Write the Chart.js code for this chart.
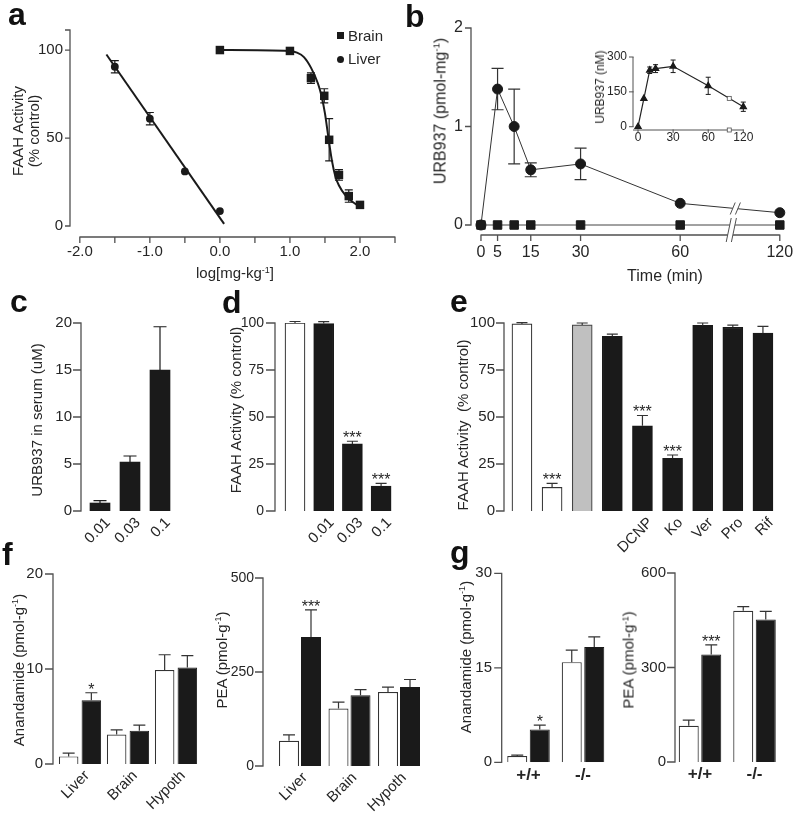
<!DOCTYPE html>
<html><head><meta charset="utf-8">
<script src="https://cdn.jsdelivr.net/npm/chart.js@4.4.1/dist/chart.umd.min.js"></script>
<style>
html,body{margin:0;padding:0;background:#fff;}
#root{position:relative;width:800px;height:815px;overflow:hidden;font-family:"Liberation Sans",Arial,sans-serif;color:#262626;background:#fff;}
#root canvas{position:absolute;}
.pl{position:absolute;font-weight:bold;font-size:32px;line-height:32px;color:#111;}
.yt{position:absolute;white-space:nowrap;font-size:15px;line-height:17px;transform:translate(-50%,-50%) rotate(-90deg);}
.ct{position:absolute;white-space:nowrap;font-size:15px;line-height:18px;transform:translate(-50%,-50%);}
.tx{position:absolute;white-space:nowrap;font-size:15px;line-height:18px;}
sup{font-size:0.6em;vertical-align:0.6em;line-height:0;}
</style></head><body><div id="root"></div>
<script>
// ================= DATA =================
// Panel a : FAAH activity vs log dose
const aLiverDose = [-1.5, -1.0, -0.5, 0.0];
const aLiverAct  = [90.5, 61, 31, 8.5];
const aLiverErr  = [3.5, 3.5, 0, 0];
const aLiverFitDose = [-1.62, 0.06];
const aLiverFitAct  = [97.5, 1.2];
const aBrainDose = [0.0, 1.0, 1.3, 1.49, 1.56, 1.7, 1.84, 2.0];
const aBrainAct  = [100, 99.5, 84, 74, 49, 29, 17, 12];
const aBrainErr  = [0, 0, 3, 4, 12, 3, 3.5, 0];
const aBrainFitDose = [0, 1.0, 1.1, 1.2, 1.3, 1.4, 1.45, 1.5, 1.55, 1.6, 1.65, 1.7, 1.8, 1.9, 1.96];
const aBrainFitAct  = [100, 99.5, 98.5, 96, 90, 81, 74, 64, 50, 37, 28, 23, 17, 13.5, 12];
const aXTicks = [-2, -1.5, -1, -0.5, 0, 0.5, 1, 1.5, 2, 2.5];
const aXTickLabels = ['-2.0', '', '-1.0', '', '0.0', '', '1.0', '', '2.0', ''];
const aYTicks = [0, 50, 100];

// Panel b : time course
const bTimes = [0, 5, 10, 15, 30, 60, 120];
const bLiver = [0, 1.38, 1.0, 0.56, 0.62, 0.22, 0.125];
const bLiverErr = [0, 0.21, 0.38, 0.07, 0.16, 0, 0];
const bBrain = [0, 0, 0, 0, 0, 0, 0];
const bXTicks = [0, 5, 15, 30, 60, 120];
const bYTicks = [0, 1, 2];
// inset
const inTimes = [0, 5, 10, 15, 30, 60, 120];
const inSerum = [0, 121, 243, 250, 260, 176, 86];
const inErr   = [0, 0, 14, 17, 27, 37, 20];
const inXTicks = [0, 30, 60, 120];
const inYTicks = [0, 150, 300];

// Panel c
const cDoses = ['0.01', '0.03', '0.1'];
const cSerum = [0.85, 5.2, 15.0];
const cErr   = [0.25, 0.65, 4.6];
const cYTicks = [0, 5, 10, 15, 20];

// Panel d
const dLabels = ['', '0.01', '0.03', '0.1'];
const dAct    = [100, 99.7, 35.7, 13.2];
const dErr    = [0.8, 1.0, 1.4, 1.5];
const dStars  = ['', '', '***', '***'];
const dFill   = ['#ffffff', '#1a1a1a', '#1a1a1a', '#1a1a1a'];
const pctTicks = [0, 25, 50, 75, 100];

// Panel e
const eLabelsH = ['V', '597', '', '', '', '', '', '', ''];
const eLabelsR = ['', '', '', '', 'DCNP', 'Ko', 'Ver', 'Pro', 'Rif'];
const eAct   = [99.5, 12.6, 99, 92.9, 45.3, 28, 98.7, 97.7, 94.6];
const eErr   = [0.7, 2.1, 1, 1.2, 5.5, 1.8, 1.3, 1.2, 3.6];
const eStars = ['', '***', '', '', '***', '***', '', '', ''];
const eFill  = ['#ffffff', '#ffffff', '#c0c0c0', '#1a1a1a', '#1a1a1a', '#1a1a1a', '#1a1a1a', '#1a1a1a', '#1a1a1a'];

// Panel f
const fTissues = ['Liver', 'Brain', 'Hypoth'];
const fAeaVeh = [0.8, 3.1, 9.9];
const fAeaVehErr = [0.35, 0.5, 1.6];
const fAeaUrb = [6.7, 3.5, 10.15];
const fAeaUrbErr = [0.8, 0.6, 1.25];
const fAeaStars = ['*', '', ''];
const fPeaVeh = [67, 153, 197];
const fPeaVehErr = [16, 17, 13];
const fPeaUrb = [343, 188, 210];
const fPeaUrbErr = [72, 15, 20];
const fPeaStars = ['***', '', ''];

// Panel g
const gGeno = ['+/+', '-/-'];
const gAeaVeh = [1.0, 15.9];
const gAeaVehErr = [0.15, 1.9];
const gAeaUrb = [5.2, 18.3];
const gAeaUrbErr = [0.7, 1.6];
const gAeaStars = ['*', ''];
const gPeaVeh = [115, 480];
const gPeaVehErr = [18, 13];
const gPeaUrb = [341, 452];
const gPeaUrbErr = [31, 26];
const gPeaStars = ['***', ''];

// ================= SETUP =================
const FONT = '"Liberation Sans", Arial, sans-serif';
const AX = '#505050', TXT = '#262626', BLK = '#1a1a1a';
Chart.defaults.font.family = FONT;
Chart.defaults.font.size = 15;
Chart.defaults.color = TXT;
Chart.defaults.animation = false;
Chart.defaults.events = [];
Chart.defaults.plugins.legend.display = false;
Chart.defaults.plugins.tooltip.enabled = false;

const root = document.getElementById('root');
const tmap = t => (t <= 60 ? t : 60 + (t - 60) / 2);   // broken time axis
const pts = (xs, ys) => xs.map((x, i) => ({x: x, y: ys[i]}));

const paxCfg = new Map();
function drawErrors(chart, before) {
  const ctx = chart.ctx, ys = chart.scales.y;
  chart.data.datasets.forEach((ds, di) => {
    if (!ds.err || (!!ds.errBefore) !== before) return;
    const meta = chart.getDatasetMeta(di);
    ctx.save();
    ctx.strokeStyle = ds.errColor || BLK;
    ctx.lineWidth = ds.errWidth || 1.2;
    meta.data.forEach((el, i) => {
      const raw = ds.data[i];
      const val = (typeof raw === 'object') ? raw.y : raw;
      const e = ds.err[i], x = el.x, cw = (ds.errCap || 10) / 2;
      const yv = ys.getPixelForValue(val), yt = ys.getPixelForValue(val + e);
      if (e > 0) {
        ctx.beginPath();
        ctx.moveTo(x, yv); ctx.lineTo(x, yt);
        ctx.moveTo(x - cw, yt); ctx.lineTo(x + cw, yt);
        if (ds.errBoth) {
          const yb = ys.getPixelForValue(val - e);
          ctx.moveTo(x, yv); ctx.lineTo(x, yb);
          ctx.moveTo(x - cw, yb); ctx.lineTo(x + cw, yb);
        }
        ctx.stroke();
      }
      if (ds.stars && ds.stars[i]) {
        ctx.fillStyle = TXT;
        ctx.font = '16px ' + FONT;
        ctx.textAlign = 'center';
        ctx.textBaseline = 'alphabetic';
        ctx.fillText(ds.stars[i], x, yt + 2);
      }
    });
    ctx.restore();
  });
}
const paxPlugin = {
  id: 'pax',
  beforeDatasetsDraw(chart) { drawErrors(chart, true); },
  afterDatasetsDraw(chart) { drawErrors(chart, false); },
  afterDraw(chart) {
    const cfg = paxCfg.get(chart.canvas); if (!cfg) return;
    const ctx = chart.ctx, ca = chart.chartArea, xs = chart.scales.x, ys = chart.scales.y;
    ctx.save();
    ctx.strokeStyle = AX; ctx.lineWidth = cfg.lw || 1.3;
    ctx.beginPath();
    if (cfg.y) {
      const ax = ca.left - cfg.y.gap;
      ctx.moveTo(ax, ys.getPixelForValue(cfg.y.from));
      ctx.lineTo(ax, ys.getPixelForValue(cfg.y.to));
      cfg.y.ticks.forEach(v => { const p = ys.getPixelForValue(v); ctx.moveTo(ax - cfg.y.len, p); ctx.lineTo(ax + 0.6, p); });
    }
    if (cfg.x) {
      const ay = ca.bottom;
      ctx.moveTo(xs.getPixelForValue(cfg.x.from), ay);
      ctx.lineTo(xs.getPixelForValue(cfg.x.to), ay);
      cfg.x.ticks.forEach(v => { const p = xs.getPixelForValue(v); ctx.moveTo(p, ay - 0.6); ctx.lineTo(p, ay + cfg.x.len); });
    }
    ctx.stroke();
    ctx.restore();
  }
};
Chart.register(paxPlugin);

function yLin(min, max, ticks, pad, size) {
  return {
    type: 'linear', position: 'left', min: min, max: max,
    grid: {display: false, drawTicks: false}, border: {display: false},
    ticks: {padding: pad, color: TXT, autoSkip: false, font: {size: size || 15}, callback: v => String(v)},
    afterBuildTicks: s => { s.ticks = ticks.map(v => ({value: v})); }
  };
}
function xLin(min, max, ticks, labels, pad, size) {
  return {
    type: 'linear', position: 'bottom', min: min, max: max,
    grid: {display: false, drawTicks: false}, border: {display: false},
    ticks: {padding: pad, color: TXT, autoSkip: false, maxRotation: 0, font: {size: size || 15}, callback: (v, i) => labels[i]},
    afterBuildTicks: s => { s.ticks = ticks.map(v => ({value: v})); }
  };
}
function xCat(o) {
  return {
    type: 'category', position: 'bottom', offset: true,
    grid: {display: false, drawTicks: false}, border: {display: false},
    ticks: {autoSkip: false, padding: o.pad, labelOffset: o.lo || 0, minRotation: o.rot || 0, maxRotation: o.rot || 0,
            color: TXT, font: {size: o.size || 15, weight: o.weight || 'normal'}}
  };
}
function makeChart(b, config, axes, plugins) {
  const left = Math.round(b.L - b.yw), top = Math.round(b.T - b.pt);
  const W = Math.ceil(b.R + b.pr - left), H = Math.ceil(b.B + b.xh - top);
  const c = document.createElement('canvas');
  c.width = W; c.height = H;
  c.style.left = left + 'px'; c.style.top = top + 'px';
  c.style.width = W + 'px'; c.style.height = H + 'px';
  root.appendChild(c);
  const yw = b.L - left, pt = b.T - top, pr = W - (b.R - left), xh = H - (b.B - top);
  const o = config.options;
  o.responsive = false; o.maintainAspectRatio = false; o.devicePixelRatio = 1; o.animation = false;
  o.layout = {padding: {left: 0, top: pt, right: pr, bottom: 0}};
  o.scales.y.afterFit = s => { s.width = yw; };
  Object.keys(o.scales).forEach(k => {
    if (k === 'y') return;
    const h = (k === 'x') ? xh : 0;
    o.scales[k].afterFit = s => { s.height = h; };
  });
  if (axes) paxCfg.set(c, axes);
  if (plugins) config.plugins = plugins;
  return new Chart(c, config);
}
function slash(ctx, cx, y1, y2) {
  const s = 2.5, g = 2.6;
  ctx.fillStyle = '#fff';
  ctx.beginPath();
  ctx.moveTo(cx - g + s, y1); ctx.lineTo(cx + g + s, y1); ctx.lineTo(cx + g - s, y2); ctx.lineTo(cx - g - s, y2);
  ctx.closePath(); ctx.fill();
  ctx.strokeStyle = AX; ctx.lineWidth = 1;
  ctx.beginPath();
  ctx.moveTo(cx - g + s, y1); ctx.lineTo(cx - g - s, y2);
  ctx.moveTo(cx + g + s, y1); ctx.lineTo(cx + g - s, y2);
  ctx.stroke();
}
function interpY(meta, px) {
  const d = meta.data;
  for (let i = 0; i < d.length - 1; i++) {
    if (px >= d[i].x && px <= d[i + 1].x) return d[i].y + (px - d[i].x) / (d[i + 1].x - d[i].x) * (d[i + 1].y - d[i].y);
  }
  return d[d.length - 1].y;
}

// ================= PANEL a =================
makeChart({L: 70, T: 30, R: 395, B: 237, yw: 60, pt: 40, pr: 30, xh: 26}, {
  type: 'scatter',
  data: {datasets: [
    {data: pts(aBrainDose, aBrainAct), pointStyle: 'rect', pointRadius: 6, backgroundColor: BLK, borderColor: BLK, borderWidth: 0,
     showLine: false, err: aBrainErr, errBoth: true, errBefore: true, errCap: 8, clip: false},
    {data: pts(aLiverDose, aLiverAct), pointStyle: 'circle', pointRadius: 3.9, backgroundColor: BLK, borderColor: BLK, borderWidth: 0,
     showLine: false, err: aLiverErr, errBoth: true, errBefore: true, errCap: 8, clip: false},
    {data: pts(aBrainFitDose, aBrainFitAct), showLine: true, pointRadius: 0, borderColor: BLK, borderWidth: 2,
     cubicInterpolationMode: 'monotone', clip: false},
    {data: pts(aLiverFitDose, aLiverFitAct), showLine: true, pointRadius: 0, borderColor: BLK, borderWidth: 2, clip: false}
  ]},
  options: {scales: {x: xLin(-2.14, 2.5, aXTicks, aXTickLabels, 6, 15), y: yLin(-6.25, 111.4, aYTicks, 7, 15)}}
}, {y: {gap: 0, from: 0, to: 111.4, ticks: [0, 50, 100, 111.4], len: 5}, x: {from: -2, to: 2.5, ticks: aXTicks, len: 6}});

// ================= PANEL b =================
const bBreakAt = 76;
makeChart({L: 471, T: 28, R: 780, B: 235, yw: 30, pt: 40, pr: 30, xh: 30}, {
  type: 'scatter',
  data: {datasets: [
    {data: pts(bTimes.map(tmap), bBrain), pointStyle: 'rect', pointRadius: 6, backgroundColor: BLK, borderColor: '#444',
     pointBorderColor: BLK, borderWidth: 1, showLine: true, clip: false},
    {data: pts(bTimes.map(tmap), bLiver), pointStyle: 'circle', pointRadius: 5, backgroundColor: BLK, borderColor: '#333',
     pointBorderColor: BLK, borderWidth: 1, showLine: true, err: bLiverErr, errBoth: true, errBefore: true, errCap: 12, errColor: '#333', clip: false}
  ]},
  options: {scales: {x: xLin(-3.0, 90.06, bXTicks.map(tmap), bXTicks.map(String), 8, 16), y: yLin(-0.1015, 2, bYTicks, 8, 16)}}
}, {y: {gap: 0, from: 0, to: 2, ticks: bYTicks, len: 6}, x: {from: 0, to: 90, ticks: bXTicks.map(tmap), len: 6}},
[{id: 'bBreak', afterDraw(chart) {
  const ctx = chart.ctx, xs = chart.scales.x, ys = chart.scales.y, ca = chart.chartArea;
  const bx = xs.getPixelForValue(bBreakAt);
  ctx.save();
  const by = interpY(chart.getDatasetMeta(1), bx + 2);
  slash(ctx, bx + 2, by - 6, by + 6);
  slash(ctx, bx - 2, ys.getPixelForValue(0) - 7, ca.bottom + 7);
  ctx.restore();
}}]);

// inset
const inBreakAt = 78;
makeChart({L: 633, T: 57, R: 743.3, B: 130, yw: 28, pt: 40, pr: 30, xh: 17}, {
  type: 'scatter',
  data: {datasets: [
    {data: pts(inTimes.map(tmap), inSerum), pointStyle: 'triangle', pointRadius: 3.6, backgroundColor: BLK, borderColor: '#222',
     pointBorderColor: BLK, borderWidth: 1.2, showLine: true, err: inErr, errBoth: true, errBefore: true, errCap: 5, errWidth: 1, clip: false}
  ]},
  options: {scales: {x: xLin(-4.3, 90, inXTicks.map(tmap), inXTicks.map(String), 0, 12), y: yLin(-14.1, 300, inYTicks, 6, 12)}}
}, {lw: 1, y: {gap: 0, from: 0, to: 300, ticks: inYTicks, len: 4}, x: {from: -4.3, to: 90, ticks: inXTicks.map(tmap), len: 3}},
[{id: 'inBreak', afterDraw(chart) {
  const ctx = chart.ctx, xs = chart.scales.x, ca = chart.chartArea;
  const bx = xs.getPixelForValue(inBreakAt);
  const by = interpY(chart.getDatasetMeta(0), bx);
  ctx.save();
  ctx.fillStyle = '#fff'; ctx.strokeStyle = AX; ctx.lineWidth = 0.8;
  [by, ca.bottom].forEach(y => { ctx.fillRect(bx - 2, y - 2, 4, 4); ctx.strokeRect(bx - 2, y - 2, 4, 4); });
  ctx.restore();
}}]);

// ================= PANEL c =================
makeChart({L: 85, T: 323, R: 175, B: 511, yw: 45, pt: 40, pr: 30, xh: 50}, {
  type: 'bar',
  data: {labels: cDoses, datasets: [
    {data: cSerum, backgroundColor: BLK, borderWidth: 0, barThickness: 20, err: cErr, errCap: 13}
  ]},
  options: {scales: {x: xCat({pad: 3, lo: 8, rot: 45}), y: yLin(0, 20, cYTicks, 13, 15)}}
}, {y: {gap: 4, from: 0, to: 20, ticks: cYTicks, len: 8}});

// ================= PANEL d =================
makeChart({L: 280.65, T: 323, R: 395.45, B: 511, yw: 45, pt: 40, pr: 30, xh: 50}, {
  type: 'bar',
  data: {labels: dLabels, datasets: [
    {data: dAct, backgroundColor: dFill, borderColor: ['#333', BLK, BLK, BLK], borderWidth: 1.2, barThickness: 20,
     err: dErr, errCap: 11, errColor: '#333', stars: dStars}
  ]},
  options: {scales: {x: xCat({pad: 3, lo: 8, rot: 45}), y: yLin(0, 100, pctTicks, 16.65, 14)}}
}, {y: {gap: 5.65, from: 0, to: 100, ticks: pctTicks, len: 9}});

// ================= PANEL e =================
makeChart({L: 506.9, T: 323, R: 778, B: 511, yw: 45, pt: 40, pr: 30, xh: 50}, {
  type: 'bar',
  data: {labels: eLabelsR, datasets: [
    {data: eAct, backgroundColor: eFill, borderColor: ['#333', '#333', '#444', BLK, BLK, BLK, BLK, BLK, BLK], borderWidth: 1.2,
     barThickness: 20, err: eErr, errCap: 11, errColor: '#333', stars: eStars}
  ]},
  options: {scales: {
    x: xCat({pad: 3, lo: 8, rot: 45}),
    x2: Object.assign(xCat({pad: 5}), {labels: eLabelsH, weight: -1}),
    y: yLin(0, 100, pctTicks, 11.9, 15)}}
}, {y: {gap: 2.9, from: 0, to: 100, ticks: pctTicks, len: 8}});

// ================= PANEL f =================
makeChart({L: 56, T: 574, R: 200, B: 764, yw: 45, pt: 40, pr: 30, xh: 50}, {
  type: 'bar',
  data: {labels: fTissues, datasets: [
    {data: fAeaVeh, backgroundColor: '#fff', borderColor: '#333', borderWidth: 1.2, categoryPercentage: 0.946, barPercentage: 0.86,
     err: fAeaVehErr, errCap: 12, errColor: '#333'},
    {data: fAeaUrb, backgroundColor: BLK, borderColor: BLK, borderWidth: 1, categoryPercentage: 0.946, barPercentage: 0.86,
     err: fAeaUrbErr, errCap: 12, errColor: '#333', stars: fAeaStars}
  ]},
  options: {scales: {x: xCat({pad: 3, lo: 7, rot: 45}), y: yLin(0, 20, [0, 10, 20], 13, 15)}}
}, {y: {gap: 3, from: 0, to: 20, ticks: [0, 10, 20], len: 8}});

makeChart({L: 275.25, T: 578, R: 423.75, B: 766, yw: 50, pt: 40, pr: 30, xh: 50}, {
  type: 'bar',
  data: {labels: fTissues, datasets: [
    {data: fPeaVeh, backgroundColor: '#fff', borderColor: '#333', borderWidth: 1.2, categoryPercentage: 0.889, barPercentage: 0.909,
     err: fPeaVehErr, errCap: 12, errColor: '#333'},
    {data: fPeaUrb, backgroundColor: BLK, borderColor: BLK, borderWidth: 1, categoryPercentage: 0.889, barPercentage: 0.909,
     err: fPeaUrbErr, errCap: 12, errColor: '#333', stars: fPeaStars}
  ]},
  options: {scales: {x: xCat({pad: 3, lo: 5, rot: 45}), y: yLin(0, 500, [0, 250, 500], 21.25, 14)}}
}, {y: {gap: 12.25, from: 0, to: 500, ticks: [0, 250, 500], len: 8}});

// ================= PANEL g =================
makeChart({L: 501.25, T: 573.3, R: 610.25, B: 762.3, yw: 45, pt: 40, pr: 30, xh: 40}, {
  type: 'bar',
  data: {labels: gGeno, datasets: [
    {data: gAeaVeh, backgroundColor: '#fff', borderColor: '#333', borderWidth: 1.2, categoryPercentage: 0.826, barPercentage: 0.889,
     err: gAeaVehErr, errCap: 12, errColor: '#333'},
    {data: gAeaUrb, backgroundColor: BLK, borderColor: BLK, borderWidth: 1, categoryPercentage: 0.826, barPercentage: 0.889,
     err: gAeaUrbErr, errCap: 12, errColor: '#333', stars: gAeaStars}
  ]},
  options: {scales: {x: xCat({pad: 2.5, size: 17, weight: 'bold'}), y: yLin(0, 30, [0, 15, 30], 9.25, 15)}}
}, {y: {gap: -0.45, from: 0, to: 30, ticks: [0, 15, 30], len: 7.5}});

makeChart({L: 672.75, T: 573, R: 781.75, B: 762, yw: 45, pt: 40, pr: 30, xh: 40}, {
  type: 'bar',
  data: {labels: gGeno, datasets: [
    {data: gPeaVeh, backgroundColor: '#fff', borderColor: '#333', borderWidth: 1.2, categoryPercentage: 0.826, barPercentage: 0.889,
     err: gPeaVehErr, errCap: 12, errColor: '#333'},
    {data: gPeaUrb, backgroundColor: BLK, borderColor: BLK, borderWidth: 1, categoryPercentage: 0.826, barPercentage: 0.889,
     err: gPeaUrbErr, errCap: 12, errColor: '#333', stars: gPeaStars}
  ]},
  options: {scales: {x: xCat({pad: 2.5, size: 17, weight: 'bold'}), y: yLin(0, 600, [0, 300, 600], 6.75, 15)}}
}, {y: {gap: -2.25, from: 0, to: 600, ticks: [0, 300, 600], len: 8}});

// ================= TEXT =================
function txt(cls, html, x, y, style) {
  const d = document.createElement('div');
  d.className = cls; d.innerHTML = html;
  d.style.left = x + 'px'; d.style.top = y + 'px';
  if (style) d.style.cssText += style;
  root.appendChild(d);
}
// panel letters
txt('pl', 'a', 8, -2); txt('pl', 'b', 405, 0); txt('pl', 'c', 10, 285); txt('pl', 'd', 222, 286);
txt('pl', 'e', 450, 285); txt('pl', 'f', 2, 538); txt('pl', 'g', 450, 536);
// legend a
txt('tx', '', 337, 32, 'width:7px;height:7px;background:' + BLK + ';');
txt('tx', '', 337, 55.5, 'width:7px;height:7px;border-radius:50%;background:' + BLK + ';');
txt('tx', 'Brain', 348, 26.5); txt('tx', 'Liver', 348, 49.5);
// axis titles
txt('yt', 'FAAH Activity', 17, 131); txt('yt', '(% control)', 33, 131);
txt('ct', 'log[mg-kg<sup>-1</sup>]', 235, 273);
txt('yt', 'URB937 (pmol-mg<sup>-1</sup>)', 440, 111, 'font-size:16px;');
txt('ct', 'Time (min)', 665, 276, 'font-size:16px;');
txt('yt', 'URB937 (nM)', 600, 87, 'font-size:12px;line-height:14px;');
txt('yt', 'URB937 in serum (uM)', 36, 420);
txt('yt', 'FAAH Activity (% control)', 235, 410);
txt('yt', 'FAAH Activity&nbsp; (% control)', 462, 425);
txt('yt', 'Anandamide (pmol-g<sup>-1</sup>)', 18, 670);
txt('yt', 'PEA (pmol-g<sup>-1</sup>)', 221, 660);
txt('yt', 'Anandamide (pmol-g<sup>-1</sup>)', 465, 657);
txt('yt', 'PEA (pmol-g<sup>-1</sup>)', 628, 660);
</script></body></html>
